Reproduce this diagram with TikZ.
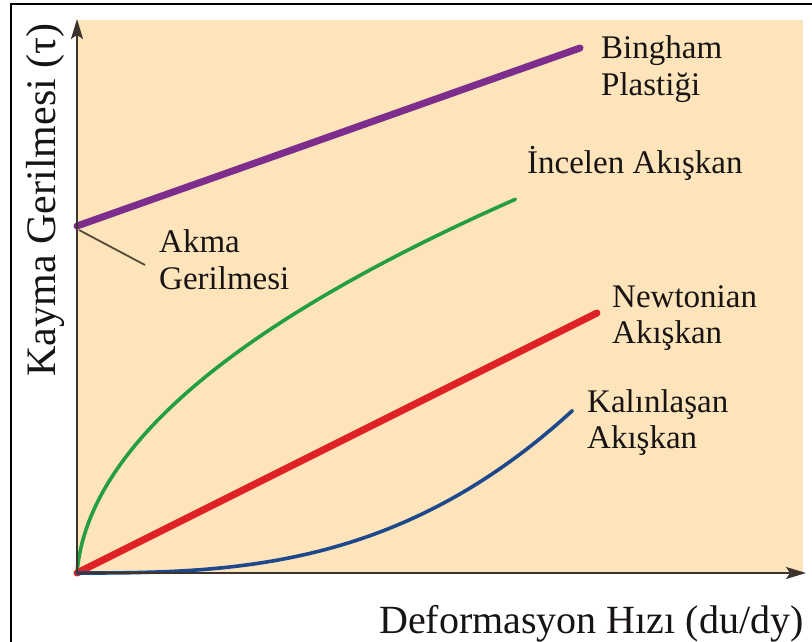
\documentclass[tikz,border=0pt]{standalone}
\usepackage{fontspec}
\setmainfont{Liberation Serif}
\usetikzlibrary{arrows.meta}
\definecolor{peach}{RGB}{253,228,186}
\definecolor{axisc}{RGB}{60,52,45}
\definecolor{binghamc}{RGB}{125,45,140}
\definecolor{thinc}{RGB}{35,158,65}
\definecolor{newtc}{RGB}{222,35,38}
\definecolor{thickc}{RGB}{30,72,140}
\definecolor{leaderc}{RGB}{85,75,55}
\definecolor{txt}{RGB}{25,20,20}
\begin{document}
\begin{tikzpicture}[x=1pt,y=-1pt,
  axis/.style={draw=axisc, line width=1.8pt, -{Stealth[length=20pt,width=12pt,inset=4pt]}},
  lbl/.style={font=\fontsize{33}{36}\selectfont, anchor=base west, inner sep=0pt, text=txt},
  axlbl/.style={font=\fontsize{40}{40}\selectfont, inner sep=0pt, text=txt},
  curve/.style={line cap=round, line join=round}]
\useasboundingbox (0,0) rectangle (812,641);
\fill[white] (0,0) rectangle (812,641);
\begin{scope}
\clip (0,0) rectangle (812,641);
\draw[line width=2pt, black] (11,4) rectangle (840,680);
\end{scope}
\fill[peach] (77,20) rectangle (803,573);
% coordinates
\coordinate (O) at (77,573);
\coordinate (ytop) at (77,19);
\coordinate (xend) at (806,573);
\coordinate (yield) at (77,226);
\coordinate (bend) at (580,48);
\coordinate (nend) at (597,313);
\coordinate (lstart) at (79,230);
\coordinate (lend) at (145,265);
% curves
\draw[curve, thinc, line width=3.6pt] plot[domain=0:1, samples=80, smooth]
  ({77+439*(0.93*\x*\x+0.07*\x)},{573-374*\x});
\draw[curve, newtc, line width=7pt] (O) -- (nend);
\draw[curve, thickc, line width=3.6pt] (O) -- plot[domain=0.02:1, samples=80, smooth]
  ({77+496*\x},{573-163*(\x^2.8)});
\draw[curve, binghamc, line width=7pt] (yield) -- (bend);
\draw[leaderc, line width=1.8pt] (lstart) -- (lend);
% axes
\draw[axis] (O) -- (ytop);
\draw[axis] (O) -- (xend);
% labels
\node[lbl] (b1) at (601,58) {Bingham};
\node[lbl] (b2) at (601,95) {Plastiği};
\node[lbl] (i1) at (527,173) {İncelen Akışkan};
\node[lbl] (a1) at (159,252) {Akma};
\node[lbl] (a2) at (159,289) {Gerilmesi};
\node[lbl] (n1) at (612,307) {Newtonian};
\node[lbl] (n2) at (612,343) {Akışkan};
\node[lbl] (k1) at (587,412) {Kalınlaşan};
\node[lbl] (k2) at (587,448) {Akışkan};
\node[axlbl, anchor=base west] (xl) at (379,633) {Deformasyon Hızı (du/dy)};
\node[axlbl, rotate=90, anchor=base, font=\fontsize{42}{42}\selectfont] (yl) at (55,200) {Kayma Gerilmesi (τ)};
\end{tikzpicture}
\end{document}
